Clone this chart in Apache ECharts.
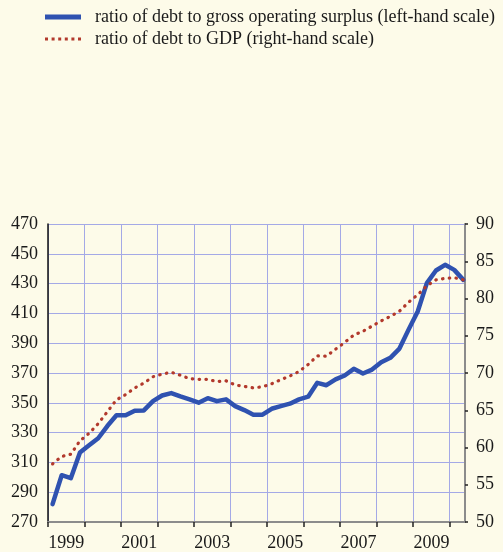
<!DOCTYPE html>
<html>
<head>
<meta charset="utf-8">
<script src="https://cdn.jsdelivr.net/npm/echarts@6/dist/echarts.min.js"></script>
<style>
  html, body { margin: 0; padding: 0; background: #fdfbe9; }
  #chart { width: 503px; height: 552px; }
</style>
</head>
<body>
<div id="chart"></div>
<script>
// Quarterly observations, 1999 Q1 - 2010 Q2
const quarters = [
  '1999Q1','1999Q2','1999Q3','1999Q4','2000Q1','2000Q2','2000Q3','2000Q4',
  '2001Q1','2001Q2','2001Q3','2001Q4','2002Q1','2002Q2','2002Q3','2002Q4',
  '2003Q1','2003Q2','2003Q3','2003Q4','2004Q1','2004Q2','2004Q3','2004Q4',
  '2005Q1','2005Q2','2005Q3','2005Q4','2006Q1','2006Q2','2006Q3','2006Q4',
  '2007Q1','2007Q2','2007Q3','2007Q4','2008Q1','2008Q2','2008Q3','2008Q4',
  '2009Q1','2009Q2','2009Q3','2009Q4','2010Q1','2010Q2'
];

// Debt / gross operating surplus (%), left-hand scale
const debtToGos = [
  282.0, 301.4, 299.4, 316.6, 321.5, 326.2, 334.4, 341.6,
  341.6, 344.7, 344.9, 351.1, 354.9, 356.5, 354.3, 352.3,
  350.1, 353.1, 351.1, 352.3, 347.8, 345.1, 342.0, 342.0,
  346.0, 347.8, 349.4, 352.3, 354.1, 363.4, 361.8, 365.7,
  368.3, 372.8, 369.7, 372.3, 377.2, 380.2, 386.4, 399.1,
  411.3, 430.3, 438.8, 442.6, 439.2, 432.5
];

// Debt / GDP (%), right-hand scale
const debtToGdp = [
  57.8, 58.8, 59.1, 60.9, 61.9, 63.2, 64.8, 66.4,
  67.1, 68.0, 68.65, 69.5, 69.85, 70.1, 69.7, 69.25,
  69.15, 69.15, 68.85, 68.95, 68.4, 68.2, 68.0, 68.15,
  68.55, 69.1, 69.6, 70.2, 71.15, 72.3, 72.25, 73.2,
  74.1, 75.1, 75.6, 76.3, 77.0, 77.6, 78.3, 79.5,
  80.5, 81.7, 82.5, 82.7, 82.8, 82.5
];

const yearTicks = [1999, 2000, 2001, 2002, 2003, 2004, 2005, 2006, 2007, 2008, 2009, 2010];
const yearLabels = [1999, 2001, 2003, 2005, 2007, 2009];
const leftTicks = [270, 470, 20];   // min, max, step
const rightTicks = [50, 90, 5];

const GOS_NAME = 'ratio of debt to gross operating surplus (left-hand scale)';
const GDP_NAME = 'ratio of debt to GDP (right-hand scale)';
const BLUE = '#2f52b0';
const RED = '#b2392c';

// place each quarter at its mid-point on a continuous time axis
function quarterPos(q) {
  const y = parseInt(q.slice(0, 4), 10);
  const n = parseInt(q.slice(5), 10);
  return y + (n - 0.5) / 4;
}
const gosData = quarters.map((q, i) => [quarterPos(q), debtToGos[i]]);
const gdpData = quarters.map((q, i) => [quarterPos(q), debtToGdp[i]]);

// legend swatches: a solid bar and a row of six dots
const solidIcon = 'path://M0,0h36v5h-36z';
const dottedIcon = 'path://M0,0h3v3h-3z M6.6,0h3v3h-3z M13.2,0h3v3h-3z M19.8,0h3v3h-3z M26.4,0h3v3h-3z M33,0h3v3h-3z';

const FONT = '"Liberation Serif", "DejaVu Serif", serif';
const chart = echarts.init(document.getElementById('chart'), null, { renderer: 'canvas' });

chart.setOption({
  backgroundColor: '#fdfbe9',
  animation: false,
  textStyle: { fontFamily: FONT },
  legend: {
    orient: 'vertical',
    left: 40,
    top: 3,
    itemWidth: 36,
    itemHeight: 14,
    itemGap: 4,
    symbolKeepAspect: true,
    textStyle: { fontFamily: FONT, fontSize: 18, color: '#1a1a1a', padding: [0, 0, 0, 9] },
    data: [
      { name: GOS_NAME, icon: solidIcon, itemStyle: { color: BLUE } },
      { name: GDP_NAME, icon: dottedIcon, itemStyle: { color: RED } }
    ]
  },
  grid: { left: 48, right: 38, top: 224, bottom: 29, containLabel: false },
  xAxis: {
    type: 'value',
    min: 1999,
    max: 2010.42,
    interval: 1,
    axisLine: { show: true, onZero: false, lineStyle: { color: '#8c8c8c', width: 2 } },
    axisTick: {
      show: true, inside: false, length: 5, customValues: yearTicks,
      lineStyle: { color: '#222', width: 1.5 }
    },
    axisLabel: {
      customValues: yearLabels.map(y => y + 0.5),
      formatter: v => String(Math.floor(v)),
      fontFamily: FONT, fontSize: 18, color: '#1a1a1a', margin: 12
    },
    splitLine: { show: true, lineStyle: { color: '#a4a9e6', width: 1 } }
  },
  yAxis: [
    {
      type: 'value',
      position: 'left',
      min: leftTicks[0], max: leftTicks[1], interval: leftTicks[2],
      axisLine: { show: true, lineStyle: { color: '#111', width: 1.5 } },
      axisTick: { show: false },
      axisLabel: { fontFamily: FONT, fontSize: 18, color: '#1a1a1a', margin: 10 },
      splitLine: { show: true, lineStyle: { color: '#a4a9e6', width: 1 } }
    },
    {
      type: 'value',
      position: 'right',
      min: rightTicks[0], max: rightTicks[1], interval: rightTicks[2],
      axisLine: { show: true, lineStyle: { color: '#8c8c8c', width: 2 } },
      axisTick: { show: true, inside: false, length: 3, lineStyle: { color: '#222', width: 1.5 } },
      axisLabel: { fontFamily: FONT, fontSize: 18, color: '#1a1a1a', margin: 11 },
      splitLine: { show: false }
    }
  ],
  series: [
    {
      name: GOS_NAME,
      type: 'line',
      yAxisIndex: 0,
      data: gosData,
      symbol: 'none',
      z: 3,
      lineStyle: { color: BLUE, width: 4.5, join: 'round', cap: 'round' },
      itemStyle: { color: BLUE }
    },
    {
      name: GDP_NAME,
      type: 'line',
      yAxisIndex: 1,
      data: gdpData,
      symbol: 'none',
      z: 4,
      lineStyle: { color: RED, width: 3.2, type: [0.5, 6.3], cap: 'round' },
      itemStyle: { color: RED }
    }
  ]
});
</script>
</body>
</html>
